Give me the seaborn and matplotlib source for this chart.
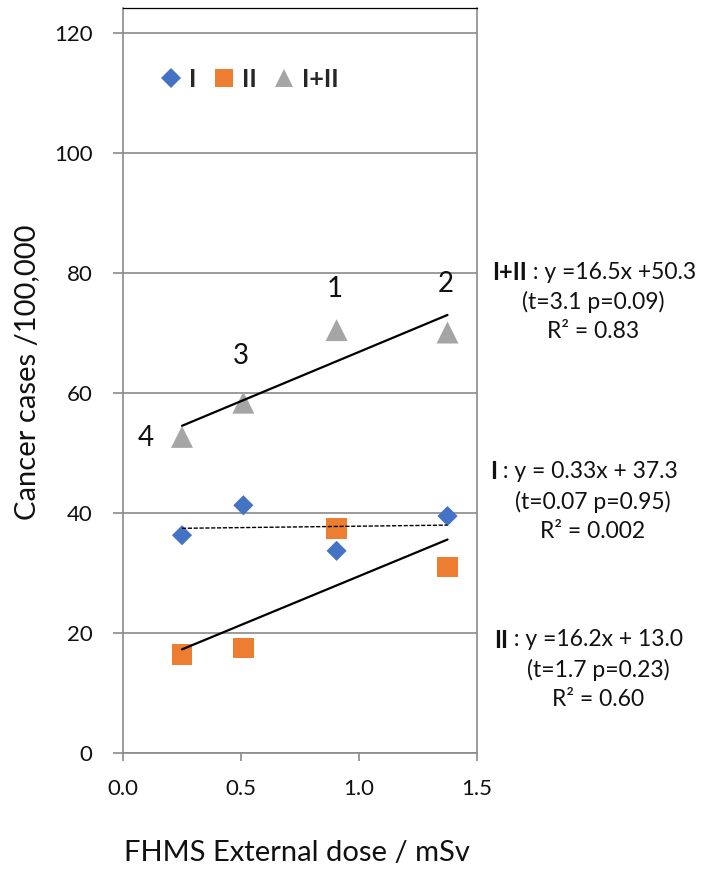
import pandas as pd
import matplotlib
matplotlib.use('Agg')
import matplotlib.pyplot as plt
import seaborn as sns

# values
dose = [0.25, 0.51, 0.905, 1.375]
cases_I = [36.3, 41.3, 33.7, 39.5]
cases_II = [16.4, 17.5, 37.4, 31.0]
cases_I_II = [52.7, 58.4, 70.5, 70.1]
groups = ['I', 'II', 'I+II']
point_labels = ['4', '3', '1', '2']
x_ticks = [0.0, 0.5, 1.0, 1.5]
y_ticks = [0, 20, 40, 60, 80, 100, 120]

fit_eq = {'I+II': ' : y =16.5x +50.3', 'I': ' : y = 0.33x + 37.3', 'II': ' : y =16.2x + 13.0'}
fit_stats = {'I+II': '(t=3.1 p=0.09)', 'I': '(t=0.07 p=0.95)', 'II': '(t=1.7 p=0.23)'}
fit_r2 = {'I+II': 'R² = 0.83', 'I': 'R² = 0.002', 'II': 'R² = 0.60'}

df = pd.DataFrame({
    'dose': dose * 3,
    'cases': cases_I + cases_II + cases_I_II,
    'group': ['I'] * 4 + ['II'] * 4 + ['I+II'] * 4,
})

palette = {'I': '#4472C4', 'II': '#ED7D31', 'I+II': '#A5A5A5'}
markers = {'I': 'D', 'II': 's', 'I+II': '^'}
sizes = {'I': 105, 'II': 215, 'I+II': 250}
legend_ms = {'I': 10.5, 'II': 12.5, 'I+II': 13.5}

sns.set_style('white')
plt.rcParams['font.family'] = ['Lato', 'DejaVu Sans']
TXT = '#111111'

W, H = 702, 869
fig = plt.figure(figsize=(W / 100, H / 100), dpi=100)
ax = fig.add_axes([123 / W, 1 - 753 / H, 354 / W, 745 / H])


def px(x, y):
    return x / W, 1 - y / H


sns.scatterplot(data=df, x='dose', y='cases', hue='group', style='group', size='group',
                palette=palette, markers=markers, sizes=sizes, hue_order=groups,
                style_order=groups, size_order=groups, linewidth=0, ax=ax)

# least squares lines, drawn across the data range
for g in ['I+II', 'I', 'II']:
    sub = df[df['group'] == g]
    if g == 'I':
        kw = dict(lw=1.0, ls=(0, (3, 1.2)))
    else:
        kw = dict(lw=1.6)
    sns.regplot(data=sub, x='dose', y='cases', scatter=False, ci=None, truncate=True,
                color='black', line_kws=kw, ax=ax)

handles, labels = ax.get_legend_handles_labels()
handles, labels = handles[-3:], labels[-3:]
for h, l in zip(handles, labels):
    h.set_markersize(legend_ms[l])
ax.legend(handles, labels, ncol=3, frameon=False, loc='upper left',
          bbox_to_anchor=(0.03, 0.95), handletextpad=0.12, columnspacing=0.5,
          handlelength=1.2, prop={'weight': 'bold', 'size': 18})

ax.set_xlim(0, 1.5)
ax.set_ylim(0, 124.2)
ax.set_xticks(x_ticks, [f'{t:.1f}' for t in x_ticks])
ax.set_yticks(y_ticks, [str(t) for t in y_ticks])
ax.set_xlabel('')
ax.set_ylabel('')
ax.yaxis.grid(True, color='#8a8a8a', lw=1.2)
ax.xaxis.grid(False)
ax.set_axisbelow(True)
for s in ['left', 'bottom', 'right']:
    ax.spines[s].set_color('#8a8a8a')
    ax.spines[s].set_linewidth(1.2)
ax.spines['top'].set_color('black')
ax.spines['top'].set_linewidth(0.9)
ax.tick_params(axis='y', left=True, direction='out', length=7, width=1.2, color='#8a8a8a',
               pad=15, labelsize=16, labelcolor=TXT)
ax.tick_params(axis='x', bottom=True, direction='out', length=6, width=1.2, color='#8a8a8a',
               pad=13, labelsize=16, labelcolor=TXT)

# site numbers next to the I+II points
offsets = {'1': (-2, 41), '2': (-2, 49), '3': (-3, 47), '4': (-36, -1)}
for xv, yv, lbl in zip(dose, cases_I_II, point_labels):
    ax.annotate(lbl, (xv, yv), xytext=offsets[lbl], textcoords='offset pixels',
                ha='center', va='center', fontsize=20, color=TXT)

# axis titles
fig.text(*px(27, 372), 'Cancer cases /100,000', rotation=90, ha='center', va='center',
         fontsize=21, color=TXT)
fig.text(*px(297, 853), 'FHMS External dose / mSv', ha='center', va='center',
         fontsize=21, color=TXT)

# regression text blocks: (group, x where bold name ends, y of first line, centre x)
blocks = [('I+II', 527, 272, 593), ('I', 497, 472, 593), ('II', 508, 640, 598)]
for g, xs, y0, xc in blocks:
    fig.text(*px(xs, y0), g, ha='right', va='center', fontsize=17, weight='bold', color=TXT)
    fig.text(*px(xs, y0), fit_eq[g], ha='left', va='center', fontsize=16.5, color=TXT)
    fig.text(*px(xc, y0 + 30), fit_stats[g], ha='center', va='center', fontsize=16.5, color=TXT)
    fig.text(*px(xc, y0 + 60), fit_r2[g], ha='center', va='center', fontsize=16.5, color=TXT)

fig.savefig('out.png', dpi=100)
